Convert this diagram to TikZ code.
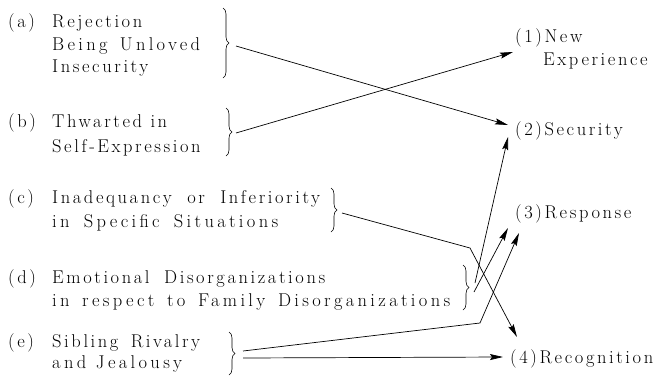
\documentclass[tikz,border=0pt]{standalone}
\usepackage{fontspec}
\setmainfont{Latin Modern Roman}[LetterSpace=14]
\usetikzlibrary{arrows.meta,decorations.pathreplacing}
\newcommand{\fitw}[2]{\makebox[#1][s]{#2}}
\newcommand{\fitwx}[2]{\makebox[#1][s]{\addfontfeatures{LetterSpace=18}#2}}
\begin{document}
\begin{tikzpicture}[x=1pt,y=-1pt,
  txt/.style={anchor=base west,inner sep=0pt,font=\fontsize{18.5}{21}\selectfont},
  br/.style={decorate,decoration={brace,amplitude=6pt},line width=0.6pt},
  conn/.style={line width=0.7pt,-{Stealth[length=13pt,width=6pt,inset=2pt]}}]
\useasboundingbox (0,0) rectangle (656,378);
% left labels
\node[txt] (la) at (8,27) {(a)};
\node[txt] (a1) at (52,27) {Rejection};
\node[txt] (a2) at (52,50) {\fitwx{148pt}{Being Unloved}};
\node[txt] (a3) at (52,72) {Insecurity};
\node[txt] (lb) at (8,127) {(b)};
\node[txt] (b1) at (52,127) {\fitw{115pt}{Thwarted in}};
\node[txt] (b2) at (52,152) {Self-Expression};
\node[txt] (lc) at (8,203) {(c)};
\node[txt] (c1) at (52,203) {\fitw{268pt}{Inadequancy or Inferiority}};
\node[txt] (c2) at (52,227) {\fitwx{226pt}{in Specific Situations}};
\node[txt] (ld) at (8,283) {(d)};
\node[txt] (d1) at (52,283) {\fitw{273pt}{Emotional Disorganizations}};
\node[txt] (d2) at (52,306) {\fitwx{398pt}{in respect to Family Disorganizations}};
\node[txt] (le) at (8,347) {(e)};
\node[txt] (e1) at (52,347) {\fitw{148pt}{Sibling Rivalry}};
\node[txt] (e2) at (52,368) {\fitwx{130pt}{and Jealousy}};
% right labels
\node[txt] (n1) at (515,42) {(1)New};
\node[txt] (n1b) at (543,65) {Experience};
\node[txt] (n2) at (515,135) {(2)Security};
\node[txt] (n3) at (515,218) {(3)Response};
\node[txt] (n4) at (510,363) {(4)Recognition};
% braces
\draw[br] (223,8) -- (223,78);
\draw[br] (226,108) -- (226,156);
\draw[br] (331,188) -- (331,232);
\draw[br] (463,265) -- (463,310);
\draw[br] (229,332) -- (229,375);
% connector end points
\coordinate (sa) at (236,46);
\coordinate (sb) at (236,133);
\coordinate (sc) at (342,213);
\coordinate (sd1) at (475,283);
\coordinate (sd2) at (474,292);
\coordinate (se1) at (243,351);
\coordinate (se2) at (243,358);
\coordinate (t1) at (513,52);
\coordinate (t2a) at (508,125);
\coordinate (t2b) at (508,137);
\coordinate (t3a) at (508,228);
\coordinate (t3b) at (519,233);
\coordinate (t4a) at (517,337);
\coordinate (t4b) at (503,357);
\coordinate (kc) at (470,248);
\coordinate (ke) at (480,323);
% connectors
\draw[conn] (sa) -- (t2a);
\draw[conn] (sb) -- (t1);
\draw[conn] (sc) -- (kc) -- (t4a);
\draw[conn] (sd1) -- (t2b);
\draw[conn] (sd2) -- (t3a);
\draw[conn] (se1) -- (ke) -- (t3b);
\draw[conn] (se2) -- (t4b);
\end{tikzpicture}
\end{document}
